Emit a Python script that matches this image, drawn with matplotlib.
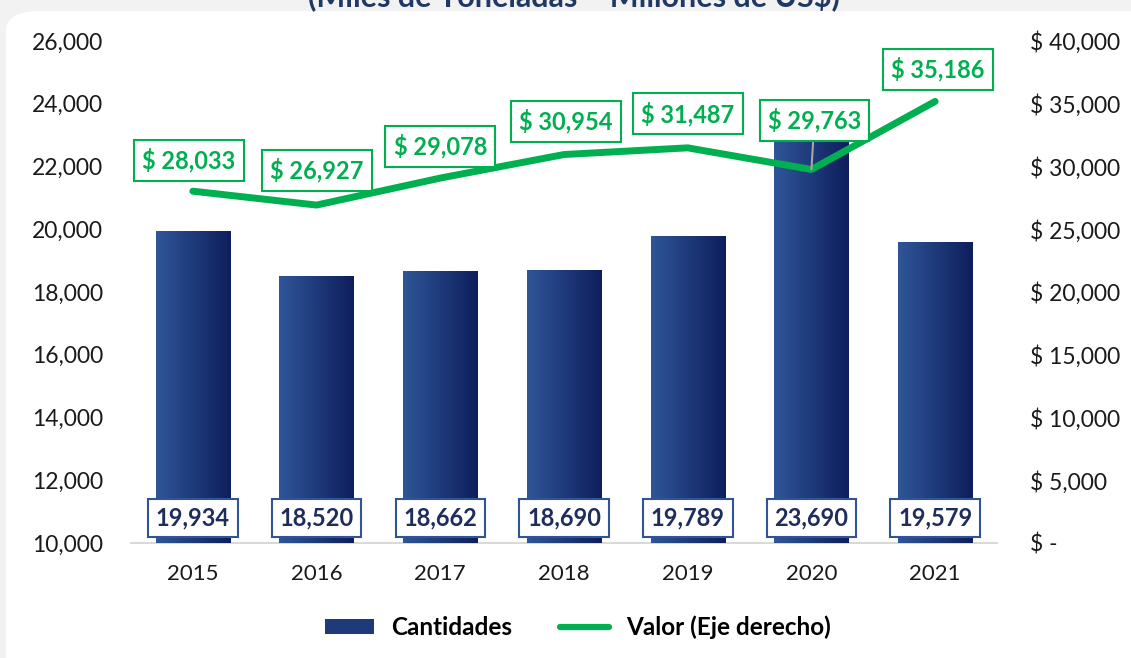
import matplotlib.pyplot as plt
import numpy as np
from matplotlib.patches import FancyBboxPatch
from matplotlib.lines import Line2D
from matplotlib.patches import Patch

plt.rcParams["font.family"] = ["Lato", "DejaVu Sans"]

years = ["2015", "2016", "2017", "2018", "2019", "2020", "2021"]
cantidades = [19934, 18520, 18662, 18690, 19789, 23690, 19579]
valor = [28033, 26927, 29078, 30954, 31487, 29763, 35186]
left_ticks = [10000, 12000, 14000, 16000, 18000, 20000, 22000, 24000, 26000]
right_ticks = [0, 5000, 10000, 15000, 20000, 25000, 30000, 35000, 40000]
title = "(Miles de Toneladas – Millones de US$)"

green = "#00b050"
navy = "#1f2d5c"
bar_left = np.array([47, 86, 152]) / 255
bar_right = np.array([14, 30, 92]) / 255

fig = plt.figure(figsize=(11.31, 6.58), dpi=100)
fig.patch.set_facecolor("#f2f2f2")
card = FancyBboxPatch((6 / 1131, -0.05), 1.2, 1.05 - 11 / 658,
                      boxstyle="round,pad=0,rounding_size=0.03",
                      transform=fig.transFigure, facecolor="white",
                      edgecolor="none", zorder=-5)
fig.patches.append(card)

# title is cropped at the top edge, as in the source image
fig.text(574 / 1131, 1 - 6 / 658, title, ha="center", va="baseline",
         fontsize=22, fontweight="bold", color="#1f3864", zorder=-4)

ax = fig.add_axes([131 / 1131, 115 / 658, 866 / 1131, 502 / 658])
ax.set_facecolor("none")
ax2 = ax.twinx()

y_min = left_ticks[0]
x = np.arange(len(years))
bars = ax.bar(x, np.array(cantidades) - y_min, bottom=y_min, width=0.6,
              color=bar_right, zorder=2)

# horizontal gradient inside each bar
grad = np.linspace(0, 1, 256)[None, :, None]
grad_img = bar_left[None, None, :] * (1 - grad) + bar_right[None, None, :] * grad
for b in bars:
    x0, y0 = b.get_x(), b.get_y()
    im = ax.imshow(grad_img, extent=[x0, x0 + b.get_width(), y0, y0 + b.get_height()],
                   aspect="auto", zorder=3, interpolation="bilinear")
    im.set_clip_path(b)

ax.set_xlim(-0.5, len(years) - 0.5)
ax.set_ylim(left_ticks[0], left_ticks[-1])
ax.set_yticks(left_ticks)
ax.set_yticklabels([f"{v:,}" for v in left_ticks])
ax.set_xticks(x)
ax.set_xticklabels(years)
ax.tick_params(axis="y", length=0, pad=20, labelsize=16.5, labelcolor="#1a1a1a")
ax.tick_params(axis="x", length=0, pad=15, labelsize=16, labelcolor="#1a1a1a")
for s in ["top", "left", "right"]:
    ax.spines[s].set_visible(False)
ax.spines["bottom"].set_color("#d9d9d9")
ax.spines["bottom"].set_linewidth(1.5)
ax.spines["bottom"].set_zorder(1)

for xi, v in zip(x, cantidades):
    ax.annotate(f"{v:,}", (xi, 0.05), xycoords=("data", "axes fraction"),
                ha="center", va="center", fontsize=17, fontweight="bold",
                color=navy, zorder=5,
                bbox=dict(boxstyle="square,pad=0.33", fc="white",
                          ec="#2f5597", lw=1.5))

ax2.plot(x, valor, color=green, lw=5, solid_capstyle="round", zorder=4)
ax2.set_ylim(right_ticks[0], right_ticks[-1])
ax2.set_yticks(right_ticks)
ax2.set_yticklabels(["$ -" if v == 0 else f"$ {v:,}" for v in right_ticks])
ax2.tick_params(axis="y", length=0, pad=24, labelsize=16.5, labelcolor="#1a1a1a")
for s in ["top", "left", "right", "bottom"]:
    ax2.spines[s].set_visible(False)

offsets = [(-4, 31), (0, 35), (0, 32), (2, 33), (0, 34), (3, 49), (3, 32)]
for xi, v, (dx, dy) in zip(x, valor, offsets):
    ax2.annotate(f"$ {v:,}", (xi, v), xytext=(dx, dy), textcoords="offset pixels",
                 ha="center", va="center", fontsize=17, fontweight="bold",
                 color=green, zorder=6,
                 bbox=dict(boxstyle="square,pad=0.35", fc="white", ec=green, lw=1.5),
                 arrowprops=dict(arrowstyle="-", color="#a6a6a6", lw=1.5,
                                 shrinkA=0, shrinkB=0) if dy > 40 else None)

handles = [Patch(facecolor=(bar_left + bar_right) / 2, edgecolor="none"),
           Line2D([0], [0], color=green, lw=4.5, solid_capstyle="round")]
fig.legend(handles, ["Cantidades", "Valor (Eje derecho)"], loc="center",
           bbox_to_anchor=(578 / 1131, 1 - 627 / 658), ncol=2, frameon=False,
           prop={"size": 17.5, "weight": "bold"}, handlelength=2.0,
           handleheight=0.55, columnspacing=2.0, handletextpad=0.7)

fig.savefig("out.png", dpi=100, facecolor=fig.get_facecolor())
